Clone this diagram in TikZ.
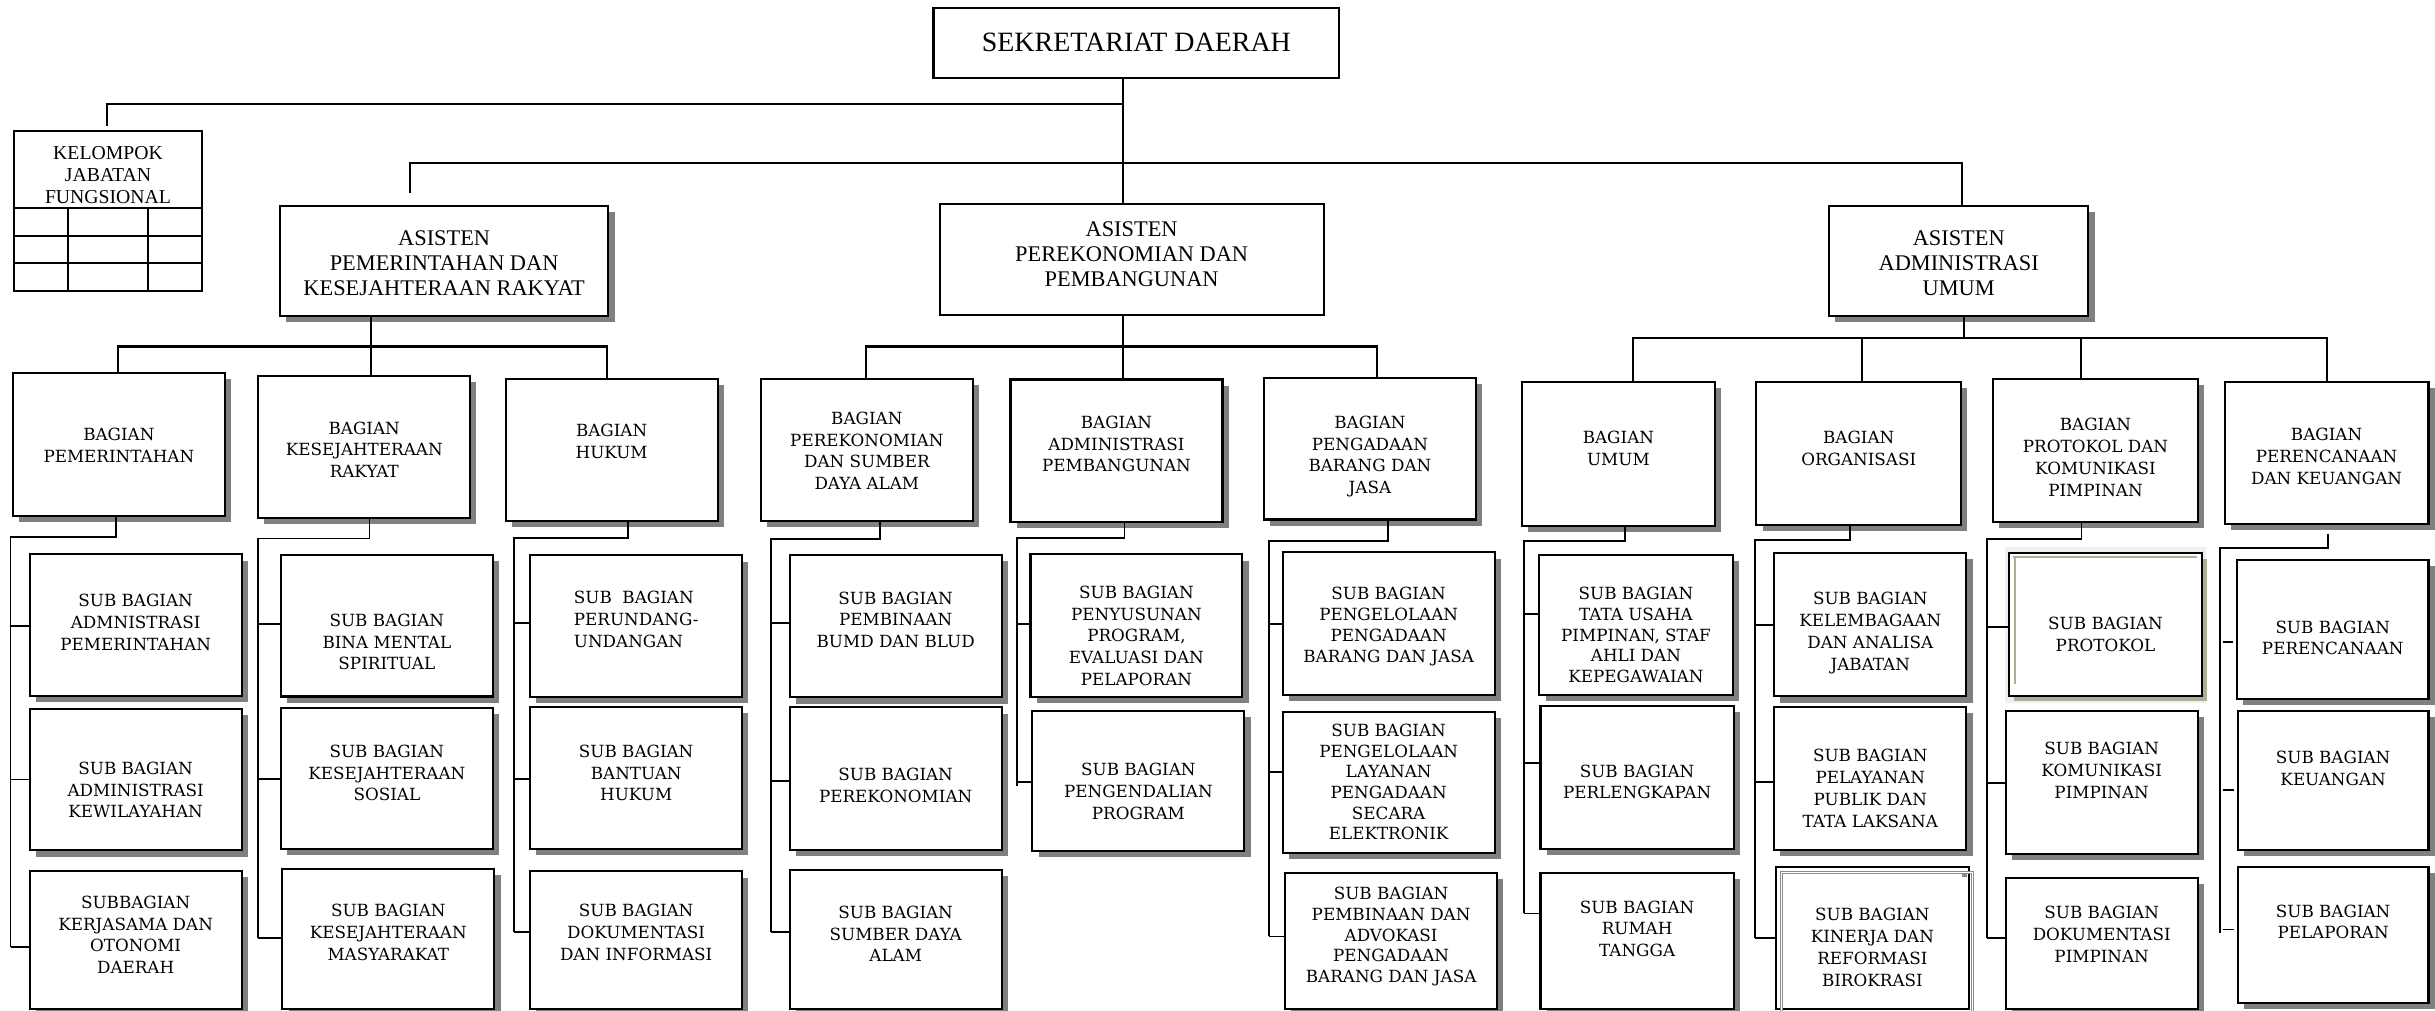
\documentclass[tikz,border=0pt]{standalone}
\usepackage{fontspec}
\setmainfont{DejaVu Serif}
\newfontfamily\hfont{Liberation Serif}
\usetikzlibrary{shadows,calc}
\definecolor{shgreen}{RGB}{168,176,150}
\tikzset{
  bbox/.style={draw=black, line width=1.35pt, fill=white, inner sep=0pt, outer sep=0pt, rectangle},
  shd/.style={drop shadow={shadow xshift=4pt, shadow yshift=-4pt, fill=black!50, opacity=1}},
  btxt/.style={align=center, inner sep=0pt, font=\fontsize{10.8}{14}\selectfont},
  tight/.style={font=\fontsize{10.8}{13.3}\selectfont},
  hdr/.style={font=\hfont\fontsize{14.4}{16}\selectfont},
  main/.style={line width=1.35pt},
  conn/.style={line width=1.15pt},
}
% \bx[box opts]{name}{x1}{y1}{x2}{y2}{text y}{text opts}{text}
\newcommand\bx[9][]{%
  \node[bbox,#1,minimum width={(#5-#3)*1pt},minimum height={(#6-#4)*1pt}] (#2) at ({(#3+#5)/2},{(#4+#6)/2}) {};
  \node[btxt,#8] (#2t) at ({(#3+#5)/2},#7) {#9};}
\newcommand\col[5]{\coordinate (r#1) at (#3,#4);
  \draw[conn] (#1.south -| #2,0) |- (r#1) -- (r#1 |- 0,#5);}
\newcommand\tk[3]{\draw[conn] (#1 |- 0,#3) -- (#2.west |- 0,#3);}
\begin{document}
\begin{tikzpicture}[x=1pt,y=-1pt]
\fill[white] (0,0) rectangle (1568,651);
\useasboundingbox (0,0) rectangle (1568,651);
\clip (0,0) rectangle (1568,651);

% ---------- top level ----------
\bx{sek}{601.1}{5.4}{862.4}{50.4}{27}{font=\hfont\fontsize{18}{20}\selectfont}{SEKRETARIAT DAERAH}
\bx{kel}{9.2}{84.4}{129.9}{187.6}{112.7}{font=\hfont\fontsize{12.7}{14}\selectfont}{KELOMPOK\\JABATAN\\FUNGSIONAL}
\draw[line width=1.35pt] (kel.west |- 0,134.2) -- (kel.east |- 0,134.2);
\draw[line width=1.35pt] (kel.west |- 0,151.8) -- (kel.east |- 0,151.8);
\draw[line width=1.35pt] (kel.west |- 0,169.6) -- (kel.east |- 0,169.6);
\draw[line width=1.35pt] (43.7,134.2) -- (kel.south -| 43.7,0);
\draw[line width=1.35pt] (95.2,134.2) -- (kel.south -| 95.2,0);

\bx[shd]{apem}{180.2}{132.4}{391.8}{203.5}{169.4}{hdr}{ASISTEN\\PEMERINTAHAN DAN\\KESEJAHTERAAN RAKYAT}
\bx{ap}{605.1}{131.6}{852.3}{202.8}{163.6}{hdr}{ASISTEN\\PEREKONOMIAN DAN\\PEMBANGUNAN}
\bx[shd]{aau}{1177.8}{132.4}{1344.8}{203.5}{169.4}{hdr}{ASISTEN\\ADMINISTRASI\\UMUM}

% ---------- bagian ----------
\bx[shd]{b1}{8.3}{240}{144.8}{332}{287}{}{BAGIAN\\PEMERINTAHAN}
\bx[shd]{b2}{166.3}{241.9}{302.8}{333.3}{289.5}{}{BAGIAN\\KESEJAHTERAAN\\RAKYAT}
\bx[shd]{b3}{325.6}{243.8}{462.1}{335.3}{284.3}{}{BAGIAN\\HUKUM}
\bx[shd]{b4}{490}{243.9}{626.4}{335.6}{290.3}{}{BAGIAN\\PEREKONOMIAN\\DAN SUMBER\\DAYA ALAM}
\bx[shd]{b5}{650.7}{244.4}{787.2}{336.1}{285.9}{}{BAGIAN\\ADMINISTRASI\\PEMBANGUNAN}
\bx[shd]{b6}{813.8}{243.3}{950.5}{334.5}{293.9}{}{BAGIAN\\PENGADAAN\\BARANG DAN\\JASA}
\bx[shd]{b7}{980.1}{245.9}{1104.2}{338.7}{288.5}{}{BAGIAN\\UMUM}
\bx[shd]{b8}{1131}{245.9}{1262.8}{338.1}{288.5}{}{BAGIAN\\ORGANISASI}
\bx[shd]{b9}{1283.5}{243.9}{1415.2}{335.9}{294.5}{}{BAGIAN\\PROTOKOL DAN\\KOMUNIKASI\\PIMPINAN}
\bx[shd]{b10}{1432.5}{245.9}{1563.8}{337.6}{293.8}{}{BAGIAN\\PERENCANAAN\\DAN KEUANGAN}

% ---------- sub bagian ----------
\bx[shd]{s11}{19.1}{357}{155.6}{448}{400.8}{}{SUB BAGIAN\\ADMNISTRASI\\PEMERINTAHAN}
\bx[shd]{s12}{19.1}{456.5}{155.6}{547.6}{508.8}{}{SUB BAGIAN\\ADMINISTRASI\\KEWILAYAHAN}
\bx[shd]{s13}{19.1}{560.6}{155.6}{650}{602}{}{SUBBAGIAN\\KERJASAMA DAN\\OTONOMI\\DAERAH}

\bx[shd]{s21}{180.9}{357.3}{317.3}{448.5}{413.5}{}{SUB BAGIAN\\BINA MENTAL\\SPIRITUAL}
\bx[shd]{s22}{180.9}{455.9}{317.3}{546.8}{497.8}{}{SUB BAGIAN\\KESEJAHTERAAN\\SOSIAL}
\bx[shd]{s23}{181.8}{559.5}{318.3}{650}{600.3}{}{SUB BAGIAN\\KESEJAHTERAAN\\MASYARAKAT}

\bx[shd]{s31}{341.4}{357.6}{477.9}{449}{398.9}{align=left}{SUB~~BAGIAN\\PERUNDANG-\\UNDANGAN}
\bx[shd]{s32}{341.4}{455}{477.9}{546.8}{497.8}{}{SUB BAGIAN\\BANTUAN\\HUKUM}
\bx[shd]{s33}{341.4}{561.1}{477.9}{650}{600.3}{}{SUB BAGIAN\\DOKUMENTASI\\DAN INFORMASI}

\bx[shd]{s41}{508.5}{357.1}{645}{449.1}{399.1}{}{SUB BAGIAN\\PEMBINAAN\\BUMD DAN BLUD}
\bx[shd]{s42}{508.5}{455.5}{645}{547.2}{505.7}{}{SUB BAGIAN\\PEREKONOMIAN}
\bx[shd]{s43}{508.5}{560.4}{645}{650}{601.3}{}{SUB BAGIAN\\SUMBER DAYA\\ALAM}

\bx[shd]{s51}{663.6}{357}{800}{449}{409.4}{}{SUB BAGIAN\\PENYUSUNAN\\PROGRAM,\\EVALUASI DAN\\PELAPORAN}
\bx[shd]{s52}{664.8}{457.7}{801.3}{547.7}{509.6}{}{SUB BAGIAN\\PENGENDALIAN\\PROGRAM}

\bx[shd]{s61}{826}{355.7}{962.4}{447.7}{403.7}{font=\fontsize{10.8}{13.5}\selectfont}{SUB BAGIAN\\PENGELOLAAN\\PENGADAAN\\BARANG DAN JASA}
\bx[shd]{s62}{826}{458.2}{962.4}{549.1}{503.5}{tight}{SUB BAGIAN\\PENGELOLAAN\\LAYANAN\\PENGADAAN\\SECARA\\ELEKTRONIK}
\bx[shd]{s63}{827.6}{562}{964}{650}{603.1}{tight}{SUB BAGIAN\\PEMBINAAN DAN\\ADVOKASI\\PENGADAAN\\BARANG DAN JASA}

\bx[shd]{s71}{991.2}{357.5}{1115.7}{447.5}{409}{tight}{SUB BAGIAN\\TATA USAHA\\PIMPINAN, STAF\\AHLI DAN\\KEPEGAWAIAN}
\bx[shd]{s72}{992}{454.5}{1116.4}{546.7}{503.5}{}{SUB BAGIAN\\PERLENGKAPAN}
\bx[shd]{s73}{992}{561.9}{1116.4}{650}{598}{}{SUB BAGIAN\\RUMAH\\TANGGA}

\bx[shd]{s81}{1142.5}{356.1}{1266.2}{448.4}{407.6}{}{SUB BAGIAN\\KELEMBAGAAN\\DAN ANALISA\\JABATAN}
\bx[shd]{s82}{1142.5}{455.3}{1266.2}{547.3}{507.6}{}{SUB BAGIAN\\PELAYANAN\\PUBLIK DAN\\TATA LAKSANA}
\bx{s83}{1143.7}{558}{1267.7}{650}{610}{}{SUB BAGIAN\\KINERJA DAN\\REFORMASI\\BIROKRASI}
\draw[black!45, line width=0.6pt, double=white, double distance=0.8pt] (1147.2,660) |- (1270,562) -- (1270,660);
\fill[black!45] (1263.2,561.9) rectangle (1266.4,564.8);

\fill[black!6] (1291,352.3) rectangle (1420.6,452.6);
\bx[drop shadow={shadow xshift=3pt, shadow yshift=-3.5pt, fill=shgreen, opacity=1}]{s91}{1293.6}{356.3}{1418}{448.2}{408.5}{}{SUB BAGIAN\\PROTOKOL}
\draw[shgreen, line width=1.6pt] (1296.3,358.6) -- (1414.5,358.6);
\draw[shgreen, line width=1.6pt] (1297.4,358.6) -- (1297.4,440.5);
\bx[shd]{s92}{1291.5}{457.8}{1415.2}{550}{496}{}{SUB BAGIAN\\KOMUNIKASI\\PIMPINAN}
\bx[shd]{s93}{1291.5}{565.3}{1415.2}{650}{601.8}{}{SUB BAGIAN\\DOKUMENTASI\\PIMPINAN}

\bx[shd]{s101}{1440.5}{360.5}{1563.8}{450}{410.8}{}{SUB BAGIAN\\PERENCANAAN}
\bx[shd]{s102}{1441}{457.8}{1563.8}{547.3}{494.6}{}{SUB BAGIAN\\KEUANGAN}
\bx[shd]{s103}{1441}{558.3}{1563.8}{646}{593.7}{}{SUB BAGIAN\\PELAPORAN}

% ---------- top connectors ----------
\coordinate (h1) at (723.2,67.2);
\coordinate (h2) at (723.2,105.2);
\coordinate (h3) at (723.2,223.1);
\coordinate (h4) at (239,223.1);
\coordinate (h5) at (1264.9,217.9);
\coordinate (dk) at (69,81);
\coordinate (da) at (263.9,124.5);
\draw[main] (sek.south -| h1) -- (ap.north -| h1);
\draw[main] (h1) -| (dk);
\draw[main] (da) |- (h2) -| (aau.north -| 1263.2,0);
\draw[main] (ap.south -| h3) -- (h3);
\draw[main] (b4.north -| 557.5,0) |- (h3) -| (b6.north -| 886.5,0);
\draw[main] (h3) -- (b5.north -| h3);
\draw[main] (apem.south -| h4) -- (h4);
\draw[main] (b1.north -| 76.1,0) |- (h4) -| (b3.north -| 390.7,0);
\draw[main] (h4) -- (b2.north -| h4);
\draw[main] (aau.south -| h5) -- (h5);
\draw[main] (b7.north -| 1051.5,0) |- (h5) -| (b10.north -| 1498.6,0);
\draw[main] (b8.north -| 1199,0) -- (h5 -| 1199,0);
\draw[main] (b9.north -| 1340.3,0) -- (h5 -| 1340.3,0);

% ---------- rails ----------
\col{b1}{74.5}{6.8}{345.7}{609.6}
\tk{rb1}{s11}{403} \tk{rb1}{s12}{502} \tk{rb1}{s13}{609.6}
\col{b2}{238}{166.3}{346.8}{604.1}
\tk{rb2}{s21}{401.6} \tk{rb2}{s22}{501.4} \tk{rb2}{s23}{604.1}
\col{b3}{404.5}{331}{346.3}{600}
\tk{rb3}{s31}{401.4} \tk{rb3}{s32}{501.4} \tk{rb3}{s33}{600}
\col{b4}{566.5}{496.7}{346.9}{600.2}
\tk{rb4}{s41}{401.3} \tk{rb4}{s42}{503} \tk{rb4}{s43}{600.2}
\col{b5}{724.1}{654.9}{346.3}{506}
\tk{rb5}{s51}{401.9} \tk{rb5}{s52}{503.5}
\col{b6}{893.9}{817}{348.3}{603}
\tk{rb6}{s61}{401.9} \tk{rb6}{s62}{497.2} \tk{rb6}{s63}{603}
\col{b7}{1046.5}{981.3}{348.6}{588.2}
\tk{rb7}{s71}{395.5} \tk{rb7}{s72}{491.3} \tk{rb7}{s73}{588.2}
\col{b8}{1191.3}{1129.9}{347.8}{604}
\tk{rb8}{s81}{402.4} \tk{rb8}{s82}{503.5} \tk{rb8}{s83}{604}
\col{b9}{1340.3}{1279.6}{347.3}{604}
\tk{rb9}{s91}{403.8} \tk{rb9}{s92}{504.3} \tk{rb9}{s93}{604}

\coordinate (rb10) at (1429.4,352.8);
\coordinate (d10) at (1498.9,343.7);
\draw[conn] (d10) |- (rb10) -- (rb10 |- 0,601);
\draw[conn] ($(rb10 |- 0,413.2)+(1.8,0)$) -- ($(s101.west |- 0,413.2)+(-2.5,0)$);
\draw[conn] ($(rb10 |- 0,508.5)+(1.8,0)$) -- ($(s102.west |- 0,508.5)+(-2.5,0)$);
\draw[conn] ($(rb10 |- 0,598.5)+(1.8,0)$) -- ($(s103.west |- 0,598.5)+(-2.5,0)$);
\end{tikzpicture}
\end{document}
